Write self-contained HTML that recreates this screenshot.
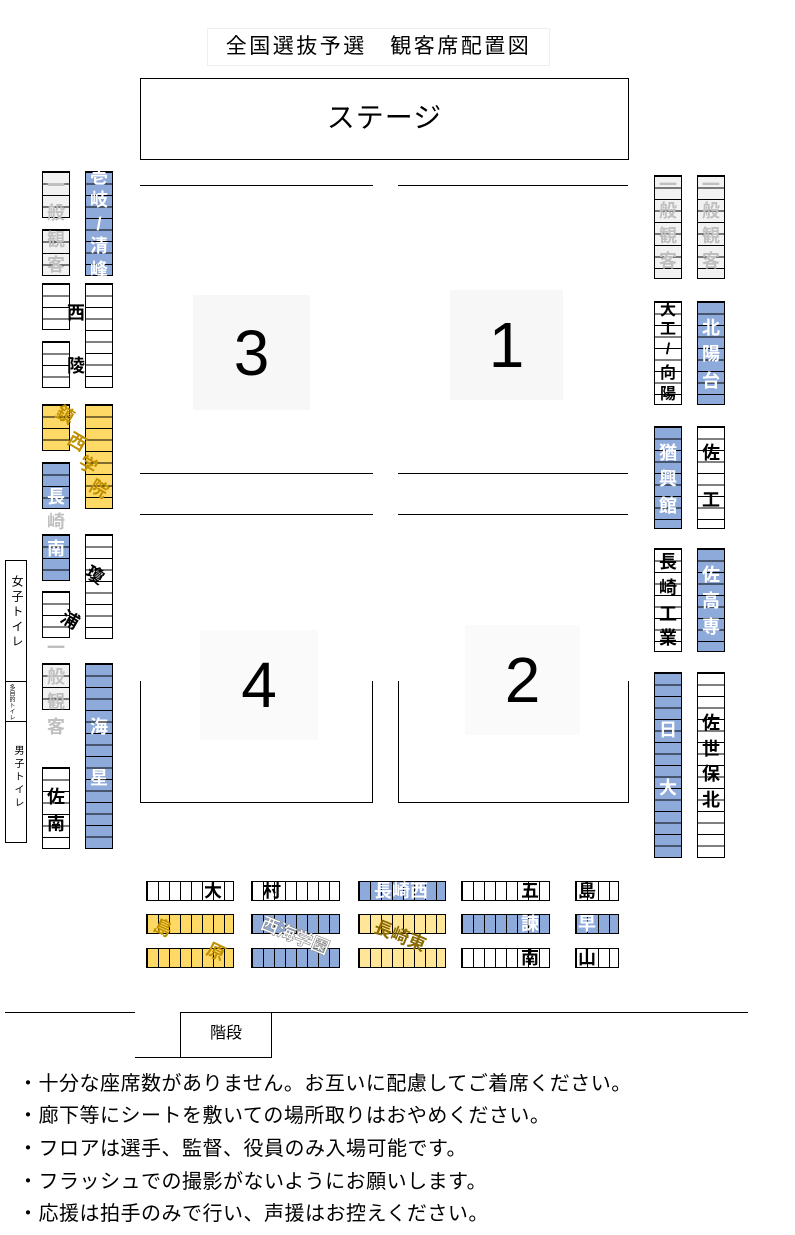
<!DOCTYPE html>
<html><head><meta charset="utf-8"><style>
body{margin:0;width:795px;height:1235px;background:#fff;position:relative;overflow:hidden;font-family:"Liberation Sans","Noto Sans CJK JP",sans-serif;}
div,span{position:absolute;box-sizing:border-box;}
.v{border:1px solid #000;width:28px;background:linear-gradient(to bottom,#000 1px,transparent 1px) 0 0/100% 11.5px;}
.h{border:1px solid #000;height:20px;background:linear-gradient(to right,#000 1px,transparent 1px) 0 0/11px 100%;}
.w{background-color:#fff}.g{background-color:#f2f2f2}.b{background-color:#8eaadb}.y{background-color:#ffd966}.ly{background-color:#ffe699}
.t{transform:translate(-50%,-50%);font-size:18px;line-height:1;font-weight:bold;white-space:nowrap;}
.k{color:#000}.wt{color:#fff}.gr{color:#bfbfbf}.au{color:#bf9000}
.ln{height:1px;background:#000}
.num{background:#f7f7f7;font-size:64px;display:flex;align-items:center;justify-content:center;}
.note{left:18px;font-size:20px;letter-spacing:0.5px;white-space:nowrap;}
</style></head><body>
<div style="left:207px;top:28px;width:343px;height:38px;border:1px solid #eee;font-size:21px;letter-spacing:2.5px;text-align:center;line-height:36px">全国選抜予選　観客席配置図</div>
<div style="left:140px;top:78px;width:489px;height:82px;border:1px solid #000;font-size:28px;letter-spacing:1px;text-align:center;line-height:78px">ステージ</div>
<div class="ln" style="left:140px;top:185px;width:233px"></div><div class="ln" style="left:398px;top:185px;width:230px"></div>
<div class="ln" style="left:140px;top:473px;width:233px"></div><div class="ln" style="left:398px;top:473px;width:230px"></div>
<div class="ln" style="left:140px;top:514px;width:233px"></div><div class="ln" style="left:398px;top:514px;width:230px"></div>
<div style="left:140px;top:681px;width:233px;height:122px;border:1px solid #000;border-top:none"></div>
<div style="left:398px;top:681px;width:231px;height:122px;border:1px solid #000;border-top:none"></div>
<div class="num" style="left:193px;top:295px;width:117px;height:115px">3</div>
<div class="num" style="left:450px;top:290px;width:113px;height:110px">1</div>
<div class="num" style="left:200px;top:630px;width:118px;height:110px;background:#fafafa">4</div>
<div class="num" style="left:465px;top:625px;width:115px;height:110px;background:#fafafa">2</div>

<div class="v g" style="left:42px;top:171px;height:47px"></div>
<div class="v g" style="left:42px;top:229px;height:47px"></div>
<div class="v b" style="left:85px;top:171px;height:105px"></div>
<div class="v w" style="left:42px;top:283px;height:47px"></div>
<div class="v w" style="left:42px;top:341px;height:47px"></div>
<div class="v w" style="left:85px;top:283px;height:105px"></div>
<div class="v y" style="left:42px;top:404px;height:47px"></div>
<div class="v y" style="left:85px;top:404px;height:105px"></div>
<div class="v b" style="left:42px;top:462px;height:47px"></div>
<div class="v b" style="left:42px;top:534px;height:47px"></div>
<div class="v w" style="left:85px;top:534px;height:105px"></div>
<div class="v w" style="left:42px;top:591px;height:47px"></div>
<div class="v g" style="left:42px;top:663px;height:47px"></div>
<div class="v b" style="left:85px;top:663px;height:186px"></div>
<div class="v w" style="left:42px;top:767px;height:82px"></div>
<div style="left:5px;top:560px;width:22px;height:283px;border:1px solid #000"></div>
<div class="ln" style="left:5px;top:681px;width:22px"></div><div class="ln" style="left:5px;top:721px;width:22px"></div>
<span style="left:9px;top:575px;font-size:12px;writing-mode:vertical-rl;letter-spacing:3px">女子トイレ</span>
<span style="left:7px;top:684px;font-size:6px;writing-mode:vertical-rl;line-height:7px">多目的トイレ</span>
<span style="left:10px;top:745px;font-size:10px;writing-mode:vertical-rl;letter-spacing:3px">男子トイレ</span>

<span class="t gr" style="left:56px;top:186px">一</span><span class="t gr" style="left:56px;top:213px">般</span><span class="t gr" style="left:56px;top:240px">観</span><span class="t gr" style="left:56px;top:265px">客</span>
<span class="t wt" style="left:99px;top:177px">壱</span><span class="t wt" style="left:99px;top:200px">岐</span><span class="t wt" style="left:99px;top:224px">/</span><span class="t wt" style="left:99px;top:246px">清</span><span class="t wt" style="left:99px;top:270px">峰</span>
<span class="t k" style="left:76px;top:313px">西</span><span class="t k" style="left:76px;top:366px">陵</span>
<span class="t au" style="left:65px;top:415px;transform:translate(-50%,-50%) rotate(30deg)">鎮</span><span class="t au" style="left:77px;top:442px;transform:translate(-50%,-50%) rotate(30deg)">西</span><span class="t au" style="left:88px;top:465px;transform:translate(-50%,-50%) rotate(30deg)">学</span><span class="t au" style="left:99px;top:489px;transform:translate(-50%,-50%) rotate(30deg)">院</span>
<span class="t wt" style="left:56px;top:497px">長</span><span class="t gr" style="left:56px;top:522px">崎</span><span class="t wt" style="left:56px;top:549px">南</span>
<span class="t k" style="left:95px;top:575px;transform:translate(-50%,-50%) rotate(30deg)">瓊</span><span class="t k" style="left:70px;top:620px;transform:translate(-50%,-50%) rotate(30deg)">浦</span>
<span class="t gr" style="left:56px;top:648px">一</span><span class="t gr" style="left:56px;top:677px">般</span><span class="t gr" style="left:56px;top:702px">観</span><span class="t gr" style="left:56px;top:727px">客</span>
<span class="t wt" style="left:99px;top:727px">海</span><span class="t wt" style="left:99px;top:778px">星</span>
<span class="t k" style="left:56px;top:797px">佐</span><span class="t k" style="left:56px;top:824px">南</span>

<div class="v g" style="left:654px;top:175px;height:104px"></div>
<div class="v g" style="left:697px;top:175px;height:104px"></div>
<div class="v w" style="left:654px;top:301px;height:104px"></div>
<div class="v b" style="left:697px;top:301px;height:104px"></div>
<div class="v b" style="left:654px;top:426px;height:103px"></div>
<div class="v w" style="left:697px;top:426px;height:103px"></div>
<div class="v w" style="left:654px;top:548px;height:104px"></div>
<div class="v b" style="left:697px;top:548px;height:104px"></div>
<div class="v b" style="left:654px;top:672px;height:186px"></div>
<div class="v w" style="left:697px;top:672px;height:186px"></div>
<span class="t gr" style="left:668px;top:185px">一</span><span class="t gr" style="left:668px;top:211px">般</span><span class="t gr" style="left:668px;top:236px">観</span><span class="t gr" style="left:668px;top:261px">客</span>
<span class="t gr" style="left:711px;top:185px">一</span><span class="t gr" style="left:711px;top:211px">般</span><span class="t gr" style="left:711px;top:236px">観</span><span class="t gr" style="left:711px;top:261px">客</span>
<span class="t k" style="left:668px;top:311px;font-size:16px">大</span><span class="t k" style="left:668px;top:330px;font-size:16px">工</span><span class="t k" style="left:668px;top:350px;font-size:16px">/</span><span class="t k" style="left:668px;top:374px;font-size:16px">向</span><span class="t k" style="left:668px;top:395px;font-size:16px">陽</span>
<span class="t wt" style="left:711px;top:328px">北</span><span class="t wt" style="left:711px;top:354px">陽</span><span class="t wt" style="left:711px;top:381px">台</span>
<span class="t wt" style="left:668px;top:453px">猶</span><span class="t wt" style="left:668px;top:479px">興</span><span class="t wt" style="left:668px;top:506px">館</span>
<span class="t k" style="left:711px;top:453px">佐</span><span class="t k" style="left:711px;top:500px">工</span>
<span class="t k" style="left:668px;top:562px">長</span><span class="t k" style="left:668px;top:588px">崎</span><span class="t k" style="left:668px;top:614px">工</span><span class="t k" style="left:668px;top:638px">業</span>
<span class="t wt" style="left:711px;top:575px">佐</span><span class="t wt" style="left:711px;top:601px">高</span><span class="t wt" style="left:711px;top:627px">専</span>
<span class="t wt" style="left:668px;top:730px">日</span><span class="t wt" style="left:668px;top:788px">大</span>
<span class="t k" style="left:711px;top:723px">佐</span><span class="t k" style="left:711px;top:749px">世</span><span class="t k" style="left:711px;top:774px">保</span><span class="t k" style="left:711px;top:800px">北</span>

<div class="h w" style="left:146px;top:881px;width:88px"></div>
<div class="h w" style="left:251px;top:881px;width:89px"></div>
<div class="h b" style="left:358px;top:881px;width:88px"></div>
<div class="h w" style="left:461px;top:881px;width:89px"></div>
<div class="h w" style="left:575px;top:881px;width:44px"></div>
<div class="h y" style="left:146px;top:914px;width:88px"></div>
<div class="h b" style="left:251px;top:914px;width:89px"></div>
<div class="h ly" style="left:358px;top:914px;width:88px"></div>
<div class="h b" style="left:461px;top:914px;width:89px"></div>
<div class="h b" style="left:575px;top:914px;width:44px"></div>
<div class="h y" style="left:146px;top:948px;width:88px"></div>
<div class="h b" style="left:251px;top:948px;width:89px"></div>
<div class="h ly" style="left:358px;top:948px;width:88px"></div>
<div class="h w" style="left:461px;top:948px;width:89px"></div>
<div class="h w" style="left:575px;top:948px;width:44px"></div>
<span class="t k" style="left:213px;top:891px">大</span><span class="t k" style="left:272px;top:891px">村</span><span class="t wt" style="left:401px;top:891px">長崎西</span><span class="t k" style="left:530px;top:891px">五</span><span class="t k" style="left:587px;top:891px">島</span>
<span class="t wt" style="left:530px;top:924px">諫</span><span class="t wt" style="left:587px;top:924px">早</span>
<span class="t k" style="left:530px;top:958px">南</span><span class="t k" style="left:587px;top:958px">山</span>
<span class="t au" style="left:163px;top:928px;transform:translate(-50%,-50%) rotate(25deg)">島</span><span class="t au" style="left:216px;top:952px;transform:translate(-50%,-50%) rotate(25deg)">原</span>
<span class="t" style="left:295px;top:936px;color:#fff;-webkit-text-stroke:0.6px #888;transform:translate(-50%,-50%) rotate(22deg)">西海学園</span>
<span class="t" style="left:400px;top:936px;color:#8b6a00;transform:translate(-50%,-50%) rotate(22deg)">長崎東</span>

<div class="ln" style="left:5px;top:1012px;width:130px"></div>
<div class="ln" style="left:180px;top:1012px;width:568px"></div>
<div class="ln" style="left:135px;top:1057px;width:136px"></div>
<div style="left:180px;top:1012px;width:92px;height:46px;border:1px solid #000;border-top:none;font-size:16px;text-align:center;line-height:44px">階段</div>
<span class="note" style="top:1067px">・十分な座席数がありません。お互いに配慮してご着席ください。</span>
<span class="note" style="top:1099px">・廊下等にシートを敷いての場所取りはおやめください。</span>
<span class="note" style="top:1132px">・フロアは選手、監督、役員のみ入場可能です。</span>
<span class="note" style="top:1165px">・フラッシュでの撮影がないようにお願いします。</span>
<span class="note" style="top:1197px">・応援は拍手のみで行い、声援はお控えください。</span>
</body></html>
